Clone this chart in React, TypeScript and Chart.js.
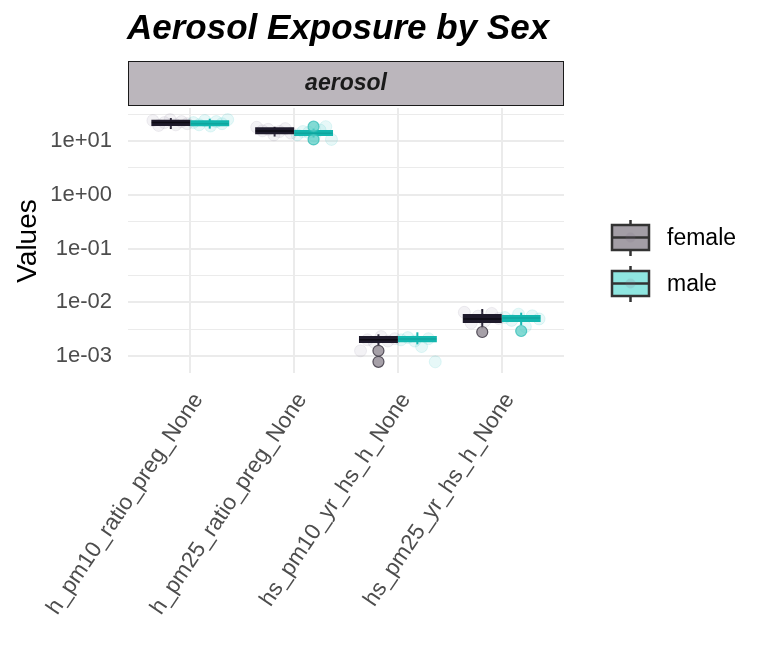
import React, { useEffect, useRef } from "react";
import { Chart, registerables } from "chart.js";

Chart.register(...registerables);

// categories on the x axis
const categories = [
    "h_pm10_ratio_preg_None",
    "h_pm25_ratio_preg_None",
    "hs_pm10_yr_hs_h_None",
    "hs_pm25_yr_hs_h_None",
];

// box statistics per category
const femaleLow = [16.7, 12.1, 1.6e-3, 3.27e-3];
const femaleQ1 = [19.0, 13.3, 1.75e-3, 4.11e-3];
const femaleMedian = [22.0, 15.3, 2.0e-3, 4.88e-3];
const femaleQ3 = [24.9, 18.0, 2.35e-3, 6.04e-3];
const femaleHigh = [26.8, 18.4, 2.54e-3, 7.48e-3];

const maleLow = [17.0, 11.6, 1.65e-3, 3.77e-3];
const maleQ1 = [18.8, 12.4, 1.8e-3, 4.29e-3];
const maleMedian = [21.0, 14.0, 2.07e-3, 5.1e-3];
const maleQ3 = [24.3, 16.0, 2.35e-3, 5.8e-3];
const maleHigh = [26.0, 17.0, 2.76e-3, 6.4e-3];

// outliers per category
const femaleOutliers = [[], [], [1.25e-3, 7.8e-4], [2.8e-3]];
const maleOutliers = [[], [18.5, 10.7], [], [2.92e-3]];

// raw (jittered) observations, drawn faintly
const femaleJitter = [
    [21, 23, 20, 25, 22, 19.5, 24],
    [14, 17, 15, 13, 16.5, 15.5, 18],
    [2.1e-3, 1.9e-3, 2.3e-3, 1.8e-3, 2.0e-3, 1.25e-3],
    [5.0e-3, 6.2e-3, 4.5e-3, 5.5e-3, 4.1e-3, 6.5e-3],
];
const maleJitter = [
    [22, 20, 24, 19, 23, 21, 25],
    [13, 15, 14.5, 12.5, 16, 18.5, 10.7],
    [2.0e-3, 2.2e-3, 1.9e-3, 1.5e-3, 2.1e-3, 7.8e-4],
    [5.2e-3, 4.6e-3, 6.0e-3, 3.5e-3, 5.6e-3, 4.9e-3],
];

// y ticks
const yTickValues = [1e-3, 1e-2, 1e-1, 1, 10];
const yTickLabels = ["1e-03", "1e-02", "1e-01", "1e+00", "1e+01"];
const yMinorValues = [10 ** -2.5, 10 ** -1.5, 10 ** -0.5, 10 ** 0.5, 10 ** 1.5];

const sexes = ["female", "male"];

const FEMALE = "#1e1a2b";
const MALE = "#13b6ae";
const FONT = "'Liberation Sans', Arial, sans-serif";

export default function App() {
    const canvasRef = useRef<HTMLCanvasElement | null>(null);

    useEffect(() => {
        if (!canvasRef.current) return;
        const ctx = canvasRef.current.getContext("2d");
        if (!ctx) return;

        const dodge = 0.1875;

        const jitterPoints = (rows: number[][], side: number) =>
            rows.flatMap((vals, i) =>
                vals.map((v, j) => ({
                    x: i + 1 + side * (0.03 + (0.33 * j) / Math.max(1, vals.length - 1)),
                    y: v,
                }))
            );

        const outlierPoints = (rows: number[][], side: number) =>
            rows.flatMap((vals, i) => vals.map((v) => ({ x: i + 1 + side * dodge, y: v })));

        const boxPlugin = {
            id: "boxExtras",
            beforeDatasetsDraw(chart: any) {
                const { ctx: c, scales } = chart;
                const xs = scales.x;
                const ys = scales.y;
                const groups = [
                    { lo: femaleLow, hi: femaleHigh, side: -1, color: FEMALE },
                    { lo: maleLow, hi: maleHigh, side: 1, color: MALE },
                ];
                c.save();
                c.lineWidth = 2;
                groups.forEach((g) => {
                    c.strokeStyle = g.color;
                    g.lo.forEach((lo, i) => {
                        const px = xs.getPixelForValue(i + 1 + g.side * dodge);
                        c.beginPath();
                        c.moveTo(px, ys.getPixelForValue(lo));
                        c.lineTo(px, ys.getPixelForValue(g.hi[i]));
                        c.stroke();
                    });
                });
                c.restore();
            },
            afterDatasetsDraw(chart: any) {
                const { ctx: c, scales } = chart;
                const xs = scales.x;
                const ys = scales.y;
                const groups = [
                    { med: femaleMedian, side: -1, color: "#0d0b14" },
                    { med: maleMedian, side: 1, color: "#0fa59e" },
                ];
                c.save();
                c.lineWidth = 1.5;
                groups.forEach((g) => {
                    c.strokeStyle = g.color;
                    g.med.forEach((m, i) => {
                        const cx = xs.getPixelForValue(i + 1 + g.side * dodge);
                        const y = ys.getPixelForValue(m);
                        c.beginPath();
                        c.moveTo(cx - 19, y);
                        c.lineTo(cx + 19, y);
                        c.stroke();
                    });
                });
                c.restore();
            },
            afterDraw(chart: any) {
                const c = chart.ctx;
                const area = chart.chartArea;
                c.save();
                // title
                c.fillStyle = "#000000";
                c.font = `italic bold 35px ${FONT}`;
                c.textAlign = "left";
                c.textBaseline = "alphabetic";
                c.fillText("Aerosol Exposure by Sex", 127, 39);

                // facet strip
                c.fillStyle = "#bbb6bc";
                c.fillRect(area.left, 61, area.right - area.left, 44);
                c.strokeStyle = "#1a1a1a";
                c.lineWidth = 1;
                c.strokeRect(area.left + 0.5, 61.5, area.right - area.left - 1, 44);
                c.fillStyle = "#1a1a1a";
                c.font = `italic bold 23px ${FONT}`;
                c.textAlign = "center";
                c.fillText("aerosol", (area.left + area.right) / 2, 90);

                // y axis title
                c.save();
                c.translate(36, 241);
                c.rotate(-Math.PI / 2);
                c.fillStyle = "#000000";
                c.font = `28px ${FONT}`;
                c.textAlign = "center";
                c.fillText("Values", 0, 0);
                c.restore();

                // legend
                const keys = [
                    { top: 225, fill: "#a39ea6" },
                    { top: 271, fill: "#8fe6e0" },
                ];
                keys.forEach((k, i) => {
                    const left = 612;
                    const w = 37;
                    const h = 25;
                    const cx = left + w / 2;
                    c.strokeStyle = "#333333";
                    c.lineWidth = 2.5;
                    c.beginPath();
                    c.moveTo(cx, k.top - 5);
                    c.lineTo(cx, k.top);
                    c.moveTo(cx, k.top + h);
                    c.lineTo(cx, k.top + h + 6);
                    c.stroke();
                    c.fillStyle = k.fill;
                    c.fillRect(left, k.top, w, h);
                    c.strokeRect(left, k.top, w, h);
                    c.beginPath();
                    c.moveTo(left, k.top + h / 2);
                    c.lineTo(left + w, k.top + h / 2);
                    c.stroke();
                    c.fillStyle = "rgba(120,110,130,0.15)";
                    c.beginPath();
                    c.arc(cx, k.top + h / 2, 5, 0, Math.PI * 2);
                    c.fill();
                    c.fillStyle = "#000000";
                    c.font = `23px ${FONT}`;
                    c.textAlign = "left";
                    c.textBaseline = "middle";
                    c.fillText(sexes[i], 667, k.top + h / 2 + 1);
                    c.textBaseline = "alphabetic";
                });
                c.restore();
            },
        };

        const chart = new Chart(ctx, {
            type: "bar",
            data: {
                datasets: [
                    {
                        type: "scatter",
                        label: "female outliers",
                        data: outlierPoints(femaleOutliers, -1),
                        pointRadius: 5.5,
                        backgroundColor: "rgba(150,143,153,0.85)",
                        borderColor: "rgba(70,64,76,0.9)",
                        borderWidth: 1.2,
                        order: 0,
                    },
                    {
                        type: "scatter",
                        label: "male outliers",
                        data: outlierPoints(maleOutliers, 1),
                        pointRadius: 5.5,
                        backgroundColor: "rgba(90,205,198,0.75)",
                        borderColor: "rgba(40,185,178,0.7)",
                        borderWidth: 1.2,
                        order: 0,
                    },
                    {
                        type: "bar",
                        label: "female",
                        data: categories.map((_, i) => ({ x: i + 1, y: [femaleQ1[i], femaleQ3[i]] })) as any,
                        backgroundColor: FEMALE,
                        borderWidth: 0,
                        categoryPercentage: 0.75,
                        barPercentage: 1,
                        order: 1,
                    },
                    {
                        type: "bar",
                        label: "male",
                        data: categories.map((_, i) => ({ x: i + 1, y: [maleQ1[i], maleQ3[i]] })) as any,
                        backgroundColor: MALE,
                        borderWidth: 0,
                        categoryPercentage: 0.75,
                        barPercentage: 1,
                        order: 1,
                    },
                    {
                        type: "scatter",
                        label: "female jitter",
                        data: jitterPoints(femaleJitter, -1),
                        pointRadius: 6,
                        backgroundColor: "rgba(170,160,185,0.14)",
                        borderColor: "rgba(150,140,165,0.14)",
                        borderWidth: 1,
                        order: 2,
                    },
                    {
                        type: "scatter",
                        label: "male jitter",
                        data: jitterPoints(maleJitter, 1),
                        pointRadius: 6,
                        backgroundColor: "rgba(60,200,195,0.12)",
                        borderColor: "rgba(60,200,195,0.14)",
                        borderWidth: 1,
                        order: 2,
                    },
                ],
            },
            options: {
                animation: false,
                responsive: true,
                maintainAspectRatio: false,
                devicePixelRatio: 1,
                layout: { padding: { top: 108, right: 204, left: 0, bottom: 0 } },
                plugins: {
                    legend: { display: false },
                    tooltip: { enabled: false },
                    title: { display: false },
                },
                scales: {
                    x: {
                        type: "linear",
                        min: 0.4,
                        max: 4.6,
                        offset: false,
                        afterBuildTicks: (s: any) => {
                            s.ticks = categories.map((_, i) => ({ value: i + 1 }));
                        },
                        afterFit: (s: any) => {
                            s.height = 299;
                        },
                        grid: { color: "#ebebeb", lineWidth: 2, drawTicks: false, offset: false },
                        border: { display: false },
                        ticks: {
                            autoSkip: false,
                            minRotation: 56,
                            maxRotation: 56,
                            padding: 15,
                            labelOffset: 8,
                            color: "#4d4d4d",
                            font: { family: FONT, size: 22.5 },
                            callback: (v: any) => categories[Math.round(Number(v)) - 1] ?? "",
                        },
                    },
                    y: {
                        type: "logarithmic",
                        min: 10 ** -3.316,
                        max: 10 ** 1.614,
                        afterBuildTicks: (s: any) => {
                            s.ticks = [...yTickValues, ...yMinorValues]
                                .sort((a, b) => a - b)
                                .map((value) => ({ value }));
                        },
                        afterFit: (s: any) => {
                            s.width = 128;
                        },
                        grid: {
                            color: "#ebebeb",
                            drawTicks: false,
                            lineWidth: (c: any) =>
                                yTickValues.some((t) => Math.abs(Math.log10(t) - Math.log10(c.tick.value)) < 1e-6)
                                    ? 2
                                    : 1,
                        },
                        border: { display: false },
                        ticks: {
                            autoSkip: false,
                            padding: 16,
                            color: "#4d4d4d",
                            font: { family: FONT, size: 22 },
                            callback: (v: any) => {
                                const idx = yTickValues.findIndex(
                                    (t) => Math.abs(Math.log10(t) - Math.log10(Number(v))) < 1e-6
                                );
                                return idx >= 0 ? yTickLabels[idx] : "";
                            },
                        },
                    },
                },
            },
            plugins: [boxPlugin],
        });

        return () => {
            chart.destroy();
        };
    }, []);

    return (
        <div style={{ position: "fixed", left: 0, top: 0, width: 768, height: 672, background: "#ffffff" }}>
            <canvas ref={canvasRef}></canvas>
        </div>
    );
}
